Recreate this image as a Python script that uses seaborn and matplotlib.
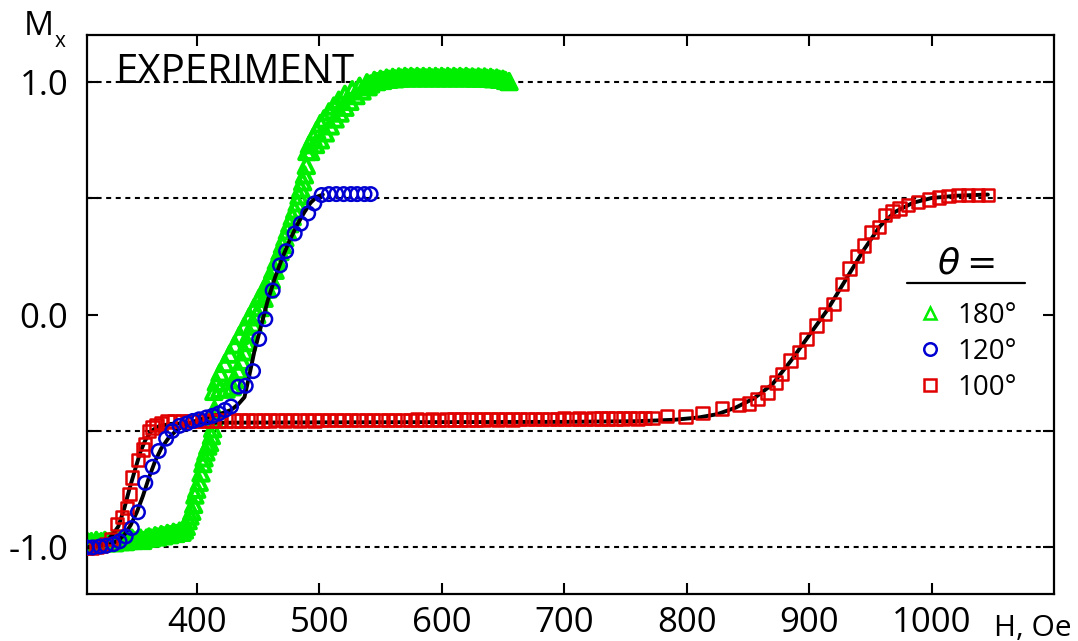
import matplotlib
matplotlib.use("Agg")
import matplotlib.pyplot as plt
from matplotlib.lines import Line2D
import seaborn as sns

# --- measured data: field H (Oe) and Mx for each angle ---
h_180 = [310, 312, 314, 316, 318, 320, 322, 325, 327, 329, 331, 333, 336, 338, 340, 342, 345, 347, 349, 352,
         354, 356, 359, 361, 363, 366, 368, 371, 373, 376, 378, 381, 383, 386, 388,
         390, 391.5, 393, 394.5, 396, 397.5, 398.5, 400, 402, 403.5, 405, 406, 407.5, 409, 410.5, 412, 413, 414, 414.5,
         414, 419, 424, 429, 416, 431, 419, 434, 423, 437, 427, 439, 431, 441, 435, 443, 439, 446, 443, 449,
         447, 452, 451, 455, 455, 458, 459, 461, 462, 464, 465, 466,
         468, 470, 472, 474, 476, 478, 480, 482, 483.5, 485, 486.5, 488, 489.5,
         490, 493, 492, 497, 495, 501, 498, 505, 501, 509, 504, 513, 508, 517, 512, 521, 516, 525, 521, 530,
         527, 535, 533, 540, 539,
         542, 545, 547, 550, 552, 555, 557, 560, 562, 565, 567, 570, 572, 575, 577, 580, 582, 585, 587, 590,
         592, 595, 597, 600, 602, 605, 607, 610, 612, 615, 617, 620, 622, 625, 627, 630, 632, 635, 637, 640,
         642, 645, 647, 650, 652, 655]
m_180 = [-0.97, -0.98, -0.975, -0.985, -0.97, -0.98, -0.975, -0.97, -0.98, -0.975, -0.97, -0.98, -0.97, -0.975,
         -0.965, -0.975, -0.97, -0.96, -0.97, -0.965, -0.96, -0.97, -0.96, -0.955, -0.96, -0.95, -0.955, -0.945,
         -0.95, -0.94, -0.945, -0.935, -0.94, -0.93, -0.935,
         -0.925, -0.91, -0.885, -0.865, -0.845, -0.815, -0.775, -0.75, -0.72, -0.68, -0.64, -0.615, -0.59, -0.565,
         -0.55, -0.52, -0.49, -0.45, -0.41,
         -0.33, -0.32, -0.32, -0.31, -0.29, -0.28, -0.25, -0.24, -0.21, -0.20, -0.17, -0.16, -0.13, -0.12,
         -0.09, -0.08, -0.05, -0.04, -0.01, 0.0, 0.03, 0.03, 0.07, 0.07, 0.11, 0.11, 0.15, 0.15, 0.19, 0.19,
         0.23, 0.23,
         0.27, 0.30, 0.33, 0.36, 0.39, 0.42, 0.45, 0.48, 0.51, 0.54, 0.57, 0.60, 0.64,
         0.70, 0.70, 0.73, 0.73, 0.76, 0.75, 0.79, 0.78, 0.82, 0.81, 0.84, 0.84, 0.87, 0.865, 0.895, 0.89,
         0.92, 0.915, 0.945, 0.94, 0.965, 0.96, 0.98, 0.978, 0.995,
         0.99, 1.005, 1.0, 1.01, 1.005, 1.015, 1.01, 1.018, 1.012, 1.02, 1.015, 1.022, 1.016, 1.022, 1.016,
         1.022, 1.016, 1.022, 1.016, 1.022, 1.016, 1.022, 1.016, 1.022, 1.016, 1.022, 1.016, 1.022, 1.016,
         1.022, 1.016, 1.022, 1.016, 1.02, 1.015, 1.02, 1.015, 1.02, 1.014, 1.018, 1.012, 1.015, 1.01, 1.01,
         1.005, 1.0]

h_120 = [310, 315, 321, 326, 332, 337, 342, 347, 352, 358, 364, 369, 375, 380, 386, 392, 397, 402, 408, 413,
         418, 423, 428, 434, 440, 446, 451, 456, 462, 468, 473, 480, 485, 491, 496, 502, 508, 514, 520, 526,
         531, 537, 542]
m_120 = [-1.0, -1.0, -0.996, -0.993, -0.986, -0.974, -0.953, -0.917, -0.849, -0.723,
         -0.654, -0.586, -0.533, -0.50, -0.478, -0.468, -0.457, -0.45, -0.442, -0.435,
         -0.425, -0.41, -0.395, -0.31, -0.306, -0.243, -0.105, -0.02, 0.103, 0.211,
         0.272, 0.348, 0.39, 0.434, 0.477, 0.513, 0.517, 0.517, 0.517, 0.517, 0.517, 0.517, 0.517]

h_100 = [310, 314, 318, 322, 326, 330, 335, 339, 343, 345, 347, 352, 356, 358, 361, 364, 367, 371, 376,
         382, 388, 394, 400, 406, 412, 418, 424, 430, 436, 442, 448, 454, 460, 466, 472, 478, 484, 490, 496,
         502, 508, 514, 520, 526, 532, 538, 544, 550, 556, 562, 568, 574, 580, 586, 592, 598, 604, 610, 616,
         622, 628, 634, 640, 646, 652, 658, 664, 670, 676, 682, 688, 694, 700, 706, 712, 718, 724, 730, 736,
         742, 748, 754, 760, 766, 772,
         784, 799, 813, 829, 843, 851, 858, 866, 873, 878, 885, 892, 898, 906, 913, 920, 927, 933, 939, 945,
         951, 957, 962, 968, 974, 981, 989, 998, 1006, 1014, 1022, 1030, 1038, 1046]
m_100 = [-1.0, -1.0, -0.997, -0.993, -0.985, -0.965, -0.90, -0.87, -0.83, -0.77, -0.70, -0.625, -0.58, -0.556,
         -0.50, -0.485, -0.474, -0.465, -0.46,
         -0.458, -0.457, -0.458, -0.456, -0.457, -0.456, -0.457, -0.455, -0.456, -0.455, -0.456, -0.455, -0.456,
         -0.455, -0.454, -0.455, -0.454, -0.455, -0.454, -0.455, -0.454, -0.453, -0.454, -0.453, -0.454, -0.453,
         -0.454, -0.453, -0.452, -0.453, -0.452, -0.453, -0.452, -0.451, -0.452, -0.451, -0.452, -0.451, -0.450,
         -0.451, -0.450, -0.451, -0.450, -0.449, -0.450, -0.449, -0.450, -0.449, -0.448, -0.449, -0.448, -0.449,
         -0.448, -0.447, -0.448, -0.447, -0.448, -0.447, -0.446, -0.447, -0.446, -0.446, -0.445, -0.446, -0.445, -0.445,
         -0.435, -0.438, -0.424, -0.404, -0.388, -0.382, -0.364, -0.335, -0.292, -0.256, -0.198, -0.162, -0.105,
         -0.047, 0.003, 0.046, 0.132, 0.197, 0.25, 0.297, 0.355, 0.376, 0.427, 0.445, 0.456, 0.47, 0.484, 0.494,
         0.503, 0.509, 0.512, 0.513, 0.514, 0.514]

# --- model curves (black) ---
fit_h_120 = [310, 320, 330, 336, 341, 346, 351, 356, 361, 366, 371, 377, 384, 392, 400, 410, 420, 428, 434, 439,
             443, 447, 452, 458, 464, 470, 476, 482, 488, 493, 498, 503]
fit_m_120 = [-1.0, -0.995, -0.985, -0.97, -0.945, -0.905, -0.85, -0.78, -0.70, -0.63,
             -0.575, -0.53, -0.495, -0.47, -0.455, -0.44, -0.425, -0.41, -0.385, -0.355,
             -0.26, -0.16, -0.06, 0.06, 0.16, 0.245, 0.32, 0.385, 0.44, 0.48, 0.505, 0.515]
fit_h_100 = [310, 320, 327, 332, 336, 341, 345, 350, 354, 358, 363, 369, 378, 400, 500, 600, 700, 760, 790, 810,
             825, 840, 855, 870, 885, 900, 915, 930, 945, 958, 970, 985, 1000, 1020, 1046]
fit_m_100 = [-1.0, -0.99, -0.97, -0.94, -0.91, -0.83, -0.75, -0.66, -0.59, -0.54,
             -0.50, -0.48, -0.47, -0.465, -0.463, -0.462, -0.461, -0.458, -0.452, -0.442,
             -0.428, -0.40, -0.36, -0.30, -0.20, -0.09, 0.02, 0.15, 0.28, 0.38, 0.44, 0.48, 0.50, 0.51, 0.515]

x_ticks = [400, 500, 600, 700, 800, 900, 1000]
y_ticks = [-1.0, -0.5, 0.0, 0.5, 1.0]
y_tick_labels = ["-1.0", "", "0.0", "", "1.0"]
ref_levels = [-1.0, -0.5, 0.5, 1.0]
angle_labels = ["180°", "120°", "100°"]

GREEN = "#00ee00"
BLUE = "#0000d2"
RED = "#e00000"

sns.set_style("ticks")
plt.rcParams['font.family'] = ['Open Sans', 'DejaVu Sans']
plt.rcParams['text.color'] = 'black'
plt.rcParams['xtick.color'] = 'black'
plt.rcParams['ytick.color'] = 'black'

W, H = 1078, 641
fig = plt.figure(figsize=(W / 100, H / 100), dpi=100)
ax = fig.add_axes([86.5 / W, 1 - 594 / H, (1054 - 86.5) / W, (594 - 35) / H])

# dotted reference levels
for lev in ref_levels:
    ax.axhline(lev, color="black", lw=1.5, ls=(0, (2.4, 2.2)), zorder=1)

# 180 deg: dense hollow triangles forming a thick band
sns.scatterplot(x=h_180, y=m_180, marker="^", s=125, facecolor="none", edgecolor=GREEN,
                linewidth=2.8, zorder=2, ax=ax, legend=False)
sns.lineplot(x=fit_h_100, y=fit_m_100, color="black", lw=2.8, sort=False, estimator=None, zorder=3, ax=ax)
sns.lineplot(x=fit_h_120, y=fit_m_120, color="black", lw=2.8, sort=False, estimator=None, zorder=3, ax=ax)
sns.scatterplot(x=h_100, y=m_100, marker="s", s=80, facecolor="none", edgecolor=RED,
                linewidth=1.8, zorder=4, ax=ax, legend=False)
sns.scatterplot(x=h_120, y=m_120, marker="o", s=95, facecolor="none", edgecolor=BLUE,
                linewidth=1.8, zorder=5, ax=ax, legend=False)

ax.set_xlim(310, 1100)
ax.set_ylim(-1.2, 1.2)
ax.set_xticks(x_ticks)
ax.set_yticks(y_ticks)
ax.set_yticklabels(y_tick_labels)
ax.set_xlabel("")
ax.set_ylabel("")
ax.tick_params(direction="in", length=8, width=1.5, labelsize=25, top=True, right=True,
               color="black", labelcolor="black")
ax.tick_params(axis="x", pad=9)
ax.tick_params(axis="y", pad=13)
for sp in ax.spines.values():
    sp.set_linewidth(1.6)
    sp.set_color("black")

ax.text((115 - 86.5) / (1054 - 86.5), (594 - 83) / (594 - 35), "EXPERIMENT", transform=ax.transAxes,
        fontsize=29, va="baseline", ha="left", zorder=6)

fig.text(24 / W, 1 - 35 / H, "M", fontsize=24, va="baseline", ha="left")
fig.text(55 / W, 1 - 47 / H, "x", fontsize=15, va="baseline", ha="left")
fig.text(994 / W, 1 - 636 / H, "H, Oe", fontsize=21.5, va="baseline", ha="left")

handles = [
    Line2D([], [], marker="^", color=GREEN, mfc="none", mew=1.8, ms=9, ls="none"),
    Line2D([], [], marker="o", color=BLUE, mfc="none", mew=1.8, ms=9, ls="none"),
    Line2D([], [], marker="s", color=RED, mfc="none", mew=1.8, ms=9, ls="none"),
]
leg = ax.legend(handles, angle_labels, loc="upper left", bbox_to_anchor=(916 / W, 1 - 302 / H),
                bbox_transform=fig.transFigure, frameon=False, fontsize=20,
                handlelength=1.0, handletextpad=0.5,
                labelspacing=0.28, borderpad=0, borderaxespad=0)
fig.text(966 / W, 1 - 246 / H, r"$\theta =$", fontsize=26, ha="center", va="top")
fig.add_artist(Line2D([907 / W, 1025 / W], [1 - 283 / H, 1 - 283 / H], color="black", lw=1.6))

fig.savefig("out.png", dpi=100)
